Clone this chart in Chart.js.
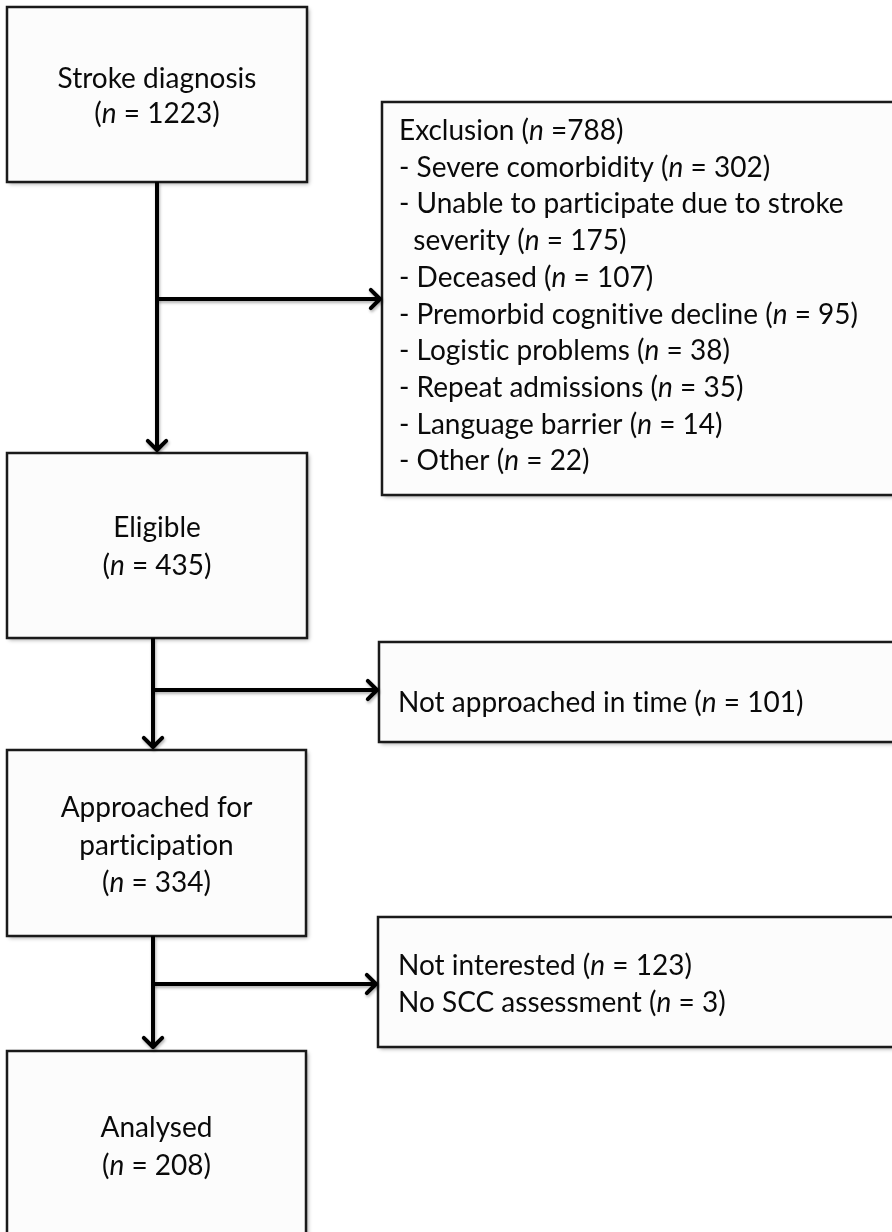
<!DOCTYPE html>
<html>
<head>
<meta charset="utf-8">
<script src="https://cdn.jsdelivr.net/npm/chart.js@4.4.1/dist/chart.umd.min.js"></script>
<style>
    html, body { margin: 0; padding: 0; background: #fff; }
    canvas { display: block; }
</style>
</head>
<body>
<canvas id="flow" width="892" height="1232"></canvas>
<script>
// flow stages and counts
const stages = ['Stroke diagnosis', 'Eligible', 'Approached for\nparticipation', 'Analysed'];
const stageN = [1223, 435, 334, 208];

const exclusionTotal = 788;
const exclusionReasons = [
    'Severe comorbidity',
    'Unable to participate due to stroke\nseverity',
    'Deceased',
    'Premorbid cognitive decline',
    'Logistic problems',
    'Repeat admissions',
    'Language barrier',
    'Other'
];
const exclusionN = [302, 175, 107, 95, 38, 35, 14, 22];

const notApproachedN = 101;
const dropoutReasons = ['Not interested', 'No SCC assessment'];
const dropoutN = [123, 3];

// layout, in axis units (one unit = one pixel of the page)
const mainBoxes = [
    { x0: 7, x1: 307, y0: 7, y1: 182, textY: 88, lh: 35 },
    { x0: 7, x1: 307, y0: 453, y1: 638, textY: 537, lh: 38 },
    { x0: 7, x1: 306, y0: 750, y1: 936, textY: 817, lh: 37.5 },
    { x0: 7, x1: 306, y0: 1051, y1: 1260, textY: 1137, lh: 38 }
];
const sideBoxes = [
    { x0: 382, x1: 905, y0: 102, y1: 495, textX: 399, textY: 140, lh: 36.7 },
    { x0: 379, x1: 905, y0: 642, y1: 742, textX: 398, textY: 712, lh: 36.7 },
    { x0: 378, x1: 905, y0: 917, y1: 1047, textX: 398, textY: 975, lh: 37 }
];
const links = [
    [[157, 182], [157, 450]],
    [[157, 299], [380, 299]],
    [[153, 638], [153, 747]],
    [[153, 690], [377, 690]],
    [[153, 936], [153, 1047]],
    [[153, 984], [376, 984]]
];

const FONT_SIZE = 28;
const FONT_FAMILY = 'Lato, "Open Sans", sans-serif';
const INK = '#0a0a0a';

// "(n = 123)" with an italic n
const nSeg = (n, eq = ' = ') => [['(', false], ['n', true], [eq + n + ')', false]];

const mainText = stages.map((s, i) => {
    const lines = s.split('\n').map(t => [[t, false]]);
    lines.push(nSeg(stageN[i]));
    return lines;
});

const exclusionText = [[['Exclusion ', false], ...nSeg(exclusionTotal, ' =')]];
exclusionReasons.forEach((r, i) => {
    const parts = r.split('\n');
    if (parts.length > 1) {
        exclusionText.push([['- ' + parts[0], false]]);
        exclusionText.push([['  ' + parts[1] + ' ', false], ...nSeg(exclusionN[i])]);
    } else {
        exclusionText.push([['- ' + r + ' ', false], ...nSeg(exclusionN[i])]);
    }
});
const sideText = [
    exclusionText,
    [[['Not approached in time ', false], ...nSeg(notApproachedN)]],
    dropoutReasons.map((r, i) => [[r + ' ', false], ...nSeg(dropoutN[i])])
];

// break the "ti" ligature Lato would otherwise use
const plain = t => t.replace(/ti/g, 't\u200Ci').replace(/ft/g, 'f\u200Ct');

const setFont = (ctx, italic) => {
    ctx.font = (italic ? 'italic ' : '') + FONT_SIZE + 'px ' + FONT_FAMILY;
};

const lineWidth = (ctx, segs) => segs.reduce((w, [t, it]) => {
    setFont(ctx, it);
    return w + ctx.measureText(plain(t)).width;
}, 0);

const drawLine = (ctx, segs, x, y, align) => {
    let cx = align === 'center' ? x - lineWidth(ctx, segs) / 2 : x;
    segs.forEach(([t, it]) => {
        setFont(ctx, it);
        ctx.fillText(plain(t), cx, y);
        cx += ctx.measureText(plain(t)).width;
    });
};

const drawBox = (ctx, xs, ys, b) => {
    const left = xs.getPixelForValue(b.x0);
    const right = xs.getPixelForValue(b.x1);
    const top = ys.getPixelForValue(b.y0);
    const bottom = ys.getPixelForValue(b.y1);
    ctx.save();
    ctx.shadowColor = 'rgba(0, 0, 0, 0.35)';
    ctx.shadowBlur = 4;
    ctx.shadowOffsetX = 2;
    ctx.shadowOffsetY = 2;
    ctx.fillStyle = '#fcfcfc';
    ctx.fillRect(left, top, right - left, bottom - top);
    ctx.restore();
    ctx.save();
    ctx.strokeStyle = '#1a1a1a';
    ctx.lineWidth = 2.5;
    ctx.strokeRect(left, top, right - left, bottom - top);
    ctx.restore();
};

const flowPlugin = {
    id: 'flow',
    beforeDatasetsDraw(chart) {
        const { ctx, scales: { x, y } } = chart;
        ctx.save();
        ctx.fillStyle = INK;
        ctx.textBaseline = 'alphabetic';

        mainBoxes.forEach((b, i) => {
            drawBox(ctx, x, y, b);
            const cx = x.getPixelForValue((b.x0 + b.x1) / 2);
            mainText[i].forEach((segs, k) => {
                drawLine(ctx, segs, cx, y.getPixelForValue(b.textY + k * b.lh), 'center');
            });
        });

        sideBoxes.forEach((b, i) => {
            drawBox(ctx, x, y, b);
            sideText[i].forEach((segs, k) => {
                drawLine(ctx, segs, x.getPixelForValue(b.textX), y.getPixelForValue(b.textY + k * b.lh), 'left');
            });
        });
        ctx.restore();
    },
    beforeDatasetDraw(chart) {
        const ctx = chart.ctx;
        ctx.save();
        ctx.shadowColor = 'rgba(0, 0, 0, 0.3)';
        ctx.shadowBlur = 3;
        ctx.shadowOffsetX = 1;
        ctx.shadowOffsetY = 2;
    },
    afterDatasetDraw(chart) {
        chart.ctx.restore();
    },
    afterDatasetsDraw(chart) {
        const { ctx } = chart;
        ctx.save();
        ctx.strokeStyle = '#000';
        ctx.lineWidth = 4;
        ctx.lineCap = 'round';
        ctx.lineJoin = 'round';
        ctx.shadowColor = 'rgba(0, 0, 0, 0.3)';
        ctx.shadowBlur = 3;
        ctx.shadowOffsetX = 1;
        ctx.shadowOffsetY = 2;
        chart.data.datasets.forEach((ds, i) => {
            const pts = chart.getDatasetMeta(i).data;
            const a = pts[pts.length - 2];
            const b = pts[pts.length - 1];
            const ang = Math.atan2(b.y - a.y, b.x - a.x);
            const len = 13;
            ctx.beginPath();
            ctx.moveTo(b.x - len * Math.cos(ang - Math.PI / 4), b.y - len * Math.sin(ang - Math.PI / 4));
            ctx.lineTo(b.x, b.y);
            ctx.lineTo(b.x - len * Math.cos(ang + Math.PI / 4), b.y - len * Math.sin(ang + Math.PI / 4));
            ctx.stroke();
        });
        ctx.restore();
    }
};

new Chart(document.getElementById('flow'), {
    type: 'scatter',
    data: {
        datasets: links.map(l => ({
            data: l.map(([px, py]) => ({ x: px, y: py })),
            showLine: true,
            borderColor: '#000',
            borderWidth: 4,
            pointRadius: 0,
            pointHoverRadius: 0,
            tension: 0,
            fill: false,
            clip: false
        }))
    },
    options: {
        responsive: false,
        animation: false,
        devicePixelRatio: 1,
        layout: { padding: 0 },
        plugins: {
            legend: { display: false },
            tooltip: { enabled: false }
        },
        events: [],
        scales: {
            x: { type: 'linear', min: 0, max: 892, display: false },
            y: { type: 'linear', min: 0, max: 1232, reverse: true, display: false }
        }
    },
    plugins: [flowPlugin]
});
</script>
</body>
</html>
